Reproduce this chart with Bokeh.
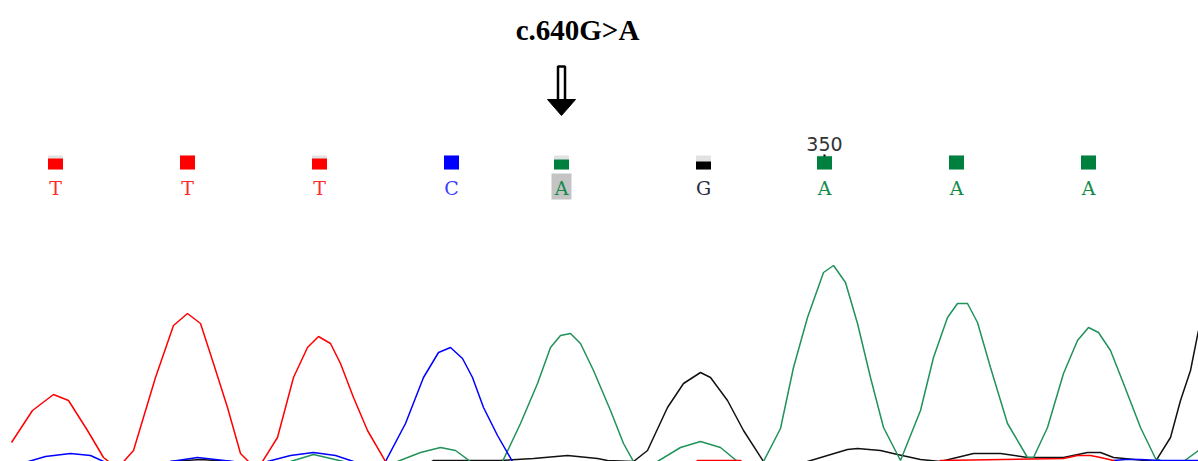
from bokeh.plotting import figure
from bokeh.models import Range1d, Label, ColumnDataSource
from bokeh.core.properties import value
from bokeh.embed import file_html
from bokeh.resources import INLINE

# ---------------- data ----------------
# trace samples: scan position, signal (negative = below visible baseline)
red_x = [11, 32, 53, 68, 87, 103, 117, 133, 155, 173, 187, 200, 213, 227, 240, 248, 255, 262, 277, 293,
         307, 318, 330, 340, 353, 367, 385, 395, 520, 690, 697, 740, 748, 930, 940, 1063, 1077, 1090,
         1100, 1113, 1122]
red_y = [18, 50, 66, 60, 30, 3, -8, 10, 83, 135, 147, 137, 97, 53, 7, -1, -8, -1, 23, 83,
         113, 124, 117, 97, 63, 30, -1, -8, -8, -8, 0, 0, -8, -8, 0, 2, 5, 5,
         3, 0, -8]

blue_x = [20, 28, 45, 70, 90, 103, 112, 160, 170, 197, 233, 245, 258, 267, 290, 313, 335, 353, 368,
          385, 405, 423, 438, 450, 462, 472, 483, 497, 512, 522, 1100, 1113, 1125, 1140, 1160, 1198]
blue_y = [-8, -1, 4, 7, 5, -1, -8, -8, -1, 3, -1, -8, -8, -1, 5, 8, 5, -1, -8,
          -1, 37, 83, 108, 113, 102, 83, 53, 25, -1, -8, -8, 0, 1, 1, 0, 0]

green_x = [280, 290, 313, 343, 352, 397, 420, 440, 455, 470, 480, 502, 520, 537, 550, 560, 570, 580,
           593, 610, 623, 633, 645, 657, 680, 700, 720, 737, 750, 763, 780, 793, 807, 823, 833, 845,
           857, 870, 883, 900, 920, 933, 947, 957, 967, 977, 990, 1007, 1027, 1033, 1047, 1063, 1077,
           1088, 1098, 1110, 1123, 1140, 1155, 1170, 1183, 1198]
green_y = [-8, -1, 6, -1, -8, -1, 8, 13, 10, -1, -8, -1, 37, 77, 113, 125, 127, 117,
           90, 50, 17, -1, -8, -1, 13, 19, 13, -1, -8, -1, 32, 93, 143, 188, 195, 178,
           137, 83, 33, 0, 50, 103, 143, 157, 157, 138, 93, 37, 3, 3, 33, 87, 120,
           133, 128, 110, 77, 33, 2, -4, -1, 10]

black_x = [160, 170, 200, 230, 240, 420, 433, 500, 533, 567, 597, 607, 633, 647, 667, 683, 700, 710,
           727, 743, 763, 775, 795, 807, 847, 857, 880, 897, 920, 940, 973, 1000, 1027, 1063, 1087,
           1100, 1113, 1155, 1170, 1180, 1190, 1198]
black_y = [-8, -1, 1, -1, -8, -8, 0, 0, 2, 5, 2, 0, -1, 10, 53, 77, 88, 83,
           60, 30, -1, -8, -8, -1, 11, 12, 10, 6, 1, -1, 7, 7, 3, 3, 8,
           8, 3, -1, 23, 60, 90, 130]

# base calls
bases = ["T", "T", "T", "C", "A", "G", "A", "A", "A"]
base_x = [55, 187, 319, 451, 561, 703, 824, 956, 1088]
base_quality = [47, 60, 47, 60, 43, 34, 57, 60, 60]
QMAX = 60
variant_index = 4
position_label = "350"
position_index = 6
title_text = "c.640G>A"

# ---------------- styling ----------------
trace_colors = {"A": "#20925a", "C": "#0000ff", "G": "#111111", "T": "#ff0000"}
square_colors = {"A": "#00803f", "C": "#0000ff", "G": "#000000", "T": "#ff0000"}
letter_colors = {"A": "#128a4a", "C": "#3c3cff", "G": "#2a2a40", "T": "#ff2a2a"}

p = figure(width=1198, height=461, x_range=Range1d(0, 1198), y_range=Range1d(-1, 460),
           output_backend="svg", toolbar_location=None, min_border=0,
           x_axis_type=None, y_axis_type=None)
p.grid.visible = False
p.outline_line_color = None
p.background_fill_color = "white"
p.border_fill_color = "white"

LW = 1.5
p.line(black_x, black_y, line_color=trace_colors["G"], line_width=LW)
p.line(green_x, green_y, line_color=trace_colors["A"], line_width=LW)
p.line(blue_x, blue_y, line_color=trace_colors["C"], line_width=LW)
p.line(red_x, red_y, line_color=trace_colors["T"], line_width=LW)

# quality boxes
BOX_BOTTOM = 291
BOX_H = 14
BOX_W = 15
tops = [BOX_BOTTOM + BOX_H * q / QMAX for q in base_quality]
p.quad(left=[x - BOX_W / 2 for x in base_x], right=[x + BOX_W / 2 for x in base_x],
       bottom=[BOX_BOTTOM] * len(base_x), top=[BOX_BOTTOM + BOX_H] * len(base_x),
       fill_color="#e2e2e2", line_color=None)
p.quad(left=[x - BOX_W / 2 for x in base_x], right=[x + BOX_W / 2 for x in base_x],
       bottom=[BOX_BOTTOM] * len(base_x), top=tops,
       fill_color=[square_colors[b] for b in bases], line_color=None)

# highlight of the variant base letter
vx = base_x[variant_index]
p.quad(left=[vx - 10], right=[vx + 10], bottom=[261], top=[287],
       fill_color="#c4c4c4", line_color=None)

src = ColumnDataSource(dict(x=base_x, y=[273] * len(base_x), t=bases,
                            c=[letter_colors[b] for b in bases]))
p.text(x="x", y="y", text="t", source=src, text_color="c", text_align="center",
       text_baseline="middle", text_font=value("DejaVu Serif"), text_font_size="19px")

# position marker
px_ = base_x[position_index]
p.text(x=[px_], y=[317], text=[position_label], text_align="center", text_baseline="middle",
       text_font=value("DejaVu Sans"), text_font_size="19px", text_color="#333333")
p.rect(x=[px_], y=[305], width=2, height=2, fill_color="black", line_color=None)

# arrow pointing to the variant
p.quad(left=[vx - 3.5], right=[vx + 3.5], bottom=[360], top=[394],
       fill_color="white", line_color="black", line_width=2.5)
p.patch([vx - 14, vx + 14, vx], [361, 361, 345], fill_color="black", line_color="black")

p.add_layout(Label(x=577, y=431, text=title_text, text_align="center",
                   text_baseline="alphabetic", text_font="Liberation Serif",
                   text_font_style="bold", text_font_size="29px", text_color="black"))

open("out.html", "w").write(file_html(p, INLINE))
